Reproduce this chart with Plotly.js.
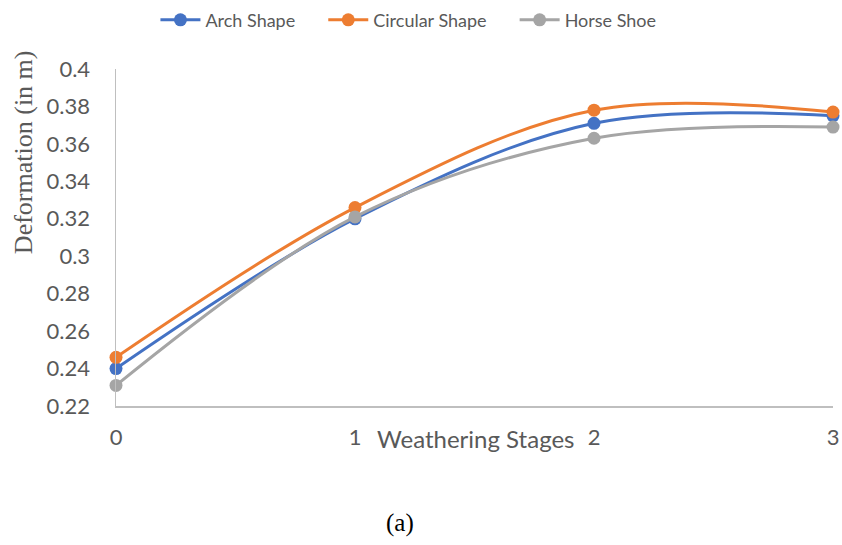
<!DOCTYPE html>
<html>
<head>
<meta charset="utf-8">
<script src="https://cdn.plot.ly/plotly-3.0.1.min.js"></script>
<style>html,body{margin:0;padding:0;background:#fff;}#chart{width:842px;height:545px;}</style>
</head>
<body>
<div id="chart"></div>
<script>
var stages = [0, 1, 2, 3];
var seriesNames = ['Arch Shape', 'Circular Shape', 'Horse Shoe'];
var archShape = [0.240, 0.320, 0.371, 0.375];
var circularShape = [0.246, 0.326, 0.378, 0.377];
var horseShoe = [0.231, 0.321, 0.363, 0.369];
var yTicks = [0.22, 0.24, 0.26, 0.28, 0.3, 0.32, 0.34, 0.36, 0.38, 0.4];
var yTickText = ["0.22", "0.24", "0.26", "0.28", "0.3", "0.32", "0.34", "0.36", "0.38", "0.4"];

var pad = '\u00a0\u00a0\u00a0\u00a0\u00a0';
function series(name, y, color) {
  return {
    x: stages, y: y, name: name + pad, type: 'scatter', mode: 'lines+markers',
    line: {color: color, width: 3, shape: 'spline', smoothing: 1},
    marker: {color: color, size: 13},
    cliponaxis: false
  };
}
var data = [
  series(seriesNames[0], archShape, '#4472C4'),
  series(seriesNames[1], circularShape, '#ED7D31'),
  series(seriesNames[2], horseShoe, '#A5A5A5')
];
var fam = 'Lato, "Open Sans", sans-serif';
var serif = '"Liberation Serif", "Times New Roman", serif';
var layout = {
  width: 842, height: 545,
  margin: {l: 116, r: 9, t: 69, b: 139, autoexpand: false},
  paper_bgcolor: '#fff', plot_bgcolor: '#fff',
  font: {family: fam, size: 18, color: '#595959'},
  showlegend: true,
  legend: {orientation: 'h', x: 0.055, xanchor: 'left', y: 1.145, yanchor: 'middle',
           font: {family: fam, size: 18, color: '#595959'}, traceorder: 'normal', itemwidth: 40},
  xaxis: {range: [0, 3], tickvals: stages, ticktext: ['0','1','2','3'], showgrid: false, zeroline: false,
          showline: true, linecolor: '#BFBFBF', linewidth: 1.5, ticks: '', ticklabelstandoff: 11,
          tickfont: {family: fam, size: 22, color: '#595959'}},
  yaxis: {range: [0.22, 0.4], tickvals: yTicks, ticktext: yTickText, showgrid: false, zeroline: false,
          showline: true, linecolor: '#BFBFBF', linewidth: 1.5, ticks: '', ticklabelstandoff: 20,
          tickfont: {family: fam, size: 22, color: '#595959'}},
  annotations: [
    {text: 'Weathering Stages', xref: 'paper', yref: 'paper', x: 0.502, y: -0.095, xanchor: 'center', yanchor: 'middle',
     showarrow: false, font: {family: fam, size: 24, color: '#595959'}},
    {text: 'Deformation (in m)', xref: 'paper', yref: 'paper', x: -0.128, y: 0.754, xanchor: 'center', yanchor: 'middle',
     textangle: -90, showarrow: false, font: {family: serif, size: 26, color: '#595959'}},
    {text: '(a)', xref: 'paper', yref: 'paper', x: 0.396, y: -0.347, xanchor: 'center', yanchor: 'middle',
     showarrow: false, font: {family: serif, size: 25, color: '#000'}}
  ]
};
Plotly.newPlot('chart', data, layout, {displayModeBar: false, staticPlot: true});
</script>
</body>
</html>
